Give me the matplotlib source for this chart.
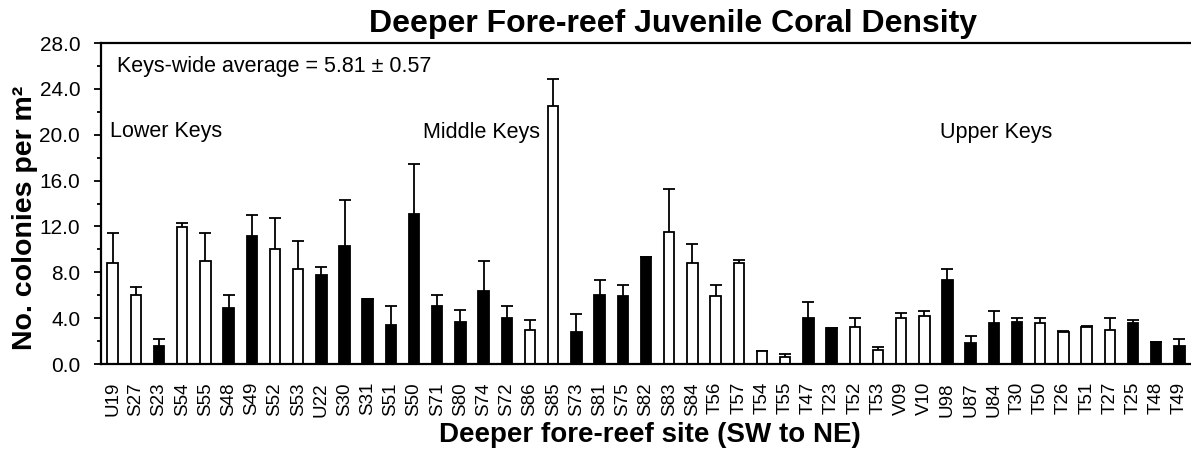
import numpy as np
import matplotlib
matplotlib.use("Agg")
import matplotlib.pyplot as plt
from matplotlib.ticker import MultipleLocator, FormatStrFormatter

plt.rcParams['font.family'] = ['Liberation Sans', 'DejaVu Sans']

# sites from SW to NE, mean density and standard error
sites = ["U19", "S27", "S23", "S54", "S55", "S48", "S49", "S52", "S53", "U22",
         "S30", "S31", "S51", "S50", "S71", "S80", "S74", "S72", "S86", "S85",
         "S73", "S81", "S75", "S82", "S83", "S84", "T56", "T57", "T54", "T55",
         "T47", "T23", "T52", "T53", "V09", "V10", "U98", "U87", "U84", "T30",
         "T50", "T26", "T51", "T27", "T25", "T48", "T49"]
dens = [8.8, 6.05, 1.55, 11.95, 8.95, 4.85, 11.15, 10.0, 8.25, 7.75,
        10.25, 5.65, 3.4, 13.1, 5.1, 3.7, 6.35, 4.05, 3.0, 22.5,
        2.75, 6.05, 5.9, 9.35, 11.55, 8.8, 5.9, 8.8, 1.1, 0.6,
        4.05, 3.1, 3.25, 1.25, 4.05, 4.2, 7.35, 1.8, 3.55, 3.7,
        3.55, 2.75, 3.25, 2.95, 3.55, 1.9, 1.55]
se = [2.65, 0.65, 0.65, 0.35, 2.45, 1.2, 1.85, 2.7, 2.5, 0.75,
      4.05, 0.0, 1.7, 4.35, 0.95, 1.05, 2.6, 1.05, 0.8, 2.35,
      1.65, 1.25, 1.0, 0.0, 3.7, 1.65, 1.0, 0.3, 0.0, 0.25,
      1.35, 0.0, 0.8, 0.25, 0.4, 0.45, 0.9, 0.6, 1.1, 0.35,
      0.5, 0.1, 0.1, 1.1, 0.25, 0.0, 0.6]
# k = solid bar, w = open bar
fill = ["w", "w", "k", "w", "w", "k", "k", "w", "w", "k",
        "k", "k", "k", "k", "k", "k", "k", "k", "w", "w",
        "k", "k", "k", "k", "w", "w", "w", "w", "w", "w",
        "k", "k", "w", "w", "w", "w", "k", "k", "k", "k",
        "w", "w", "w", "w", "k", "k", "k"]

x = np.arange(len(sites))

fig = plt.figure(figsize=(11.91, 4.65), dpi=100)
ax = fig.add_axes([101/1191, 1 - 364/465, 1090/1191, 321/465])

ax.bar(x, dens, width=0.45, color=fill, edgecolor="black", linewidth=1.3, zorder=2)
eb = ax.errorbar(x, dens, yerr=[np.zeros(len(se)), se], fmt="none", ecolor="black",
                 elinewidth=1.3, capsize=4.5, capthick=1.3, zorder=1)
eb[1][0].set_visible(False)

ax.set_xlim(-0.5, len(sites) - 0.5)
ax.set_ylim(0, 28)
ax.yaxis.set_major_locator(MultipleLocator(4))
ax.yaxis.set_minor_locator(MultipleLocator(2))
ax.yaxis.set_major_formatter(FormatStrFormatter("%.1f"))
ax.tick_params(axis="y", which="major", length=5, width=1.3, labelsize=15, pad=10)
ax.tick_params(axis="y", which="minor", length=3, width=1.3)
ax.set_xticks(x)
ax.set_xticklabels(sites, rotation=90, fontsize=13.5)
ax.tick_params(axis="x", length=0, pad=13)

for s in ["left", "bottom", "top"]:
    ax.spines[s].set_linewidth(1.6)
ax.spines["right"].set_visible(False)

ax.text(0.0147, 0.909, "Keys-wide average = 5.81 \u00b1 0.57", transform=ax.transAxes,
        fontsize=15.5, va="baseline", ha="left")
ax.text(0.008, 0.708, "Lower Keys", transform=ax.transAxes, fontsize=15.5, va="baseline")
ax.text(0.2954, 0.703, "Middle Keys", transform=ax.transAxes, fontsize=15.5, va="baseline")
ax.text(0.7697, 0.703, "Upper Keys", transform=ax.transAxes, fontsize=15.5, va="baseline")

fig.text(673/1191, 1 - 32/465, "Deeper Fore-reef Juvenile Coral Density",
         fontsize=23, fontweight="bold", ha="center", va="baseline")
fig.text(650/1191, 1 - 442/465, "Deeper fore-reef site (SW to NE)",
         fontsize=20, fontweight="bold", ha="center", va="baseline")
fig.text(32/1191, 1 - 218/465, "No. colonies per m\u00b2", fontsize=20.5, fontweight="bold",
         rotation=90, rotation_mode="anchor", ha="center", va="baseline")

fig.savefig("out.png", dpi=100)
